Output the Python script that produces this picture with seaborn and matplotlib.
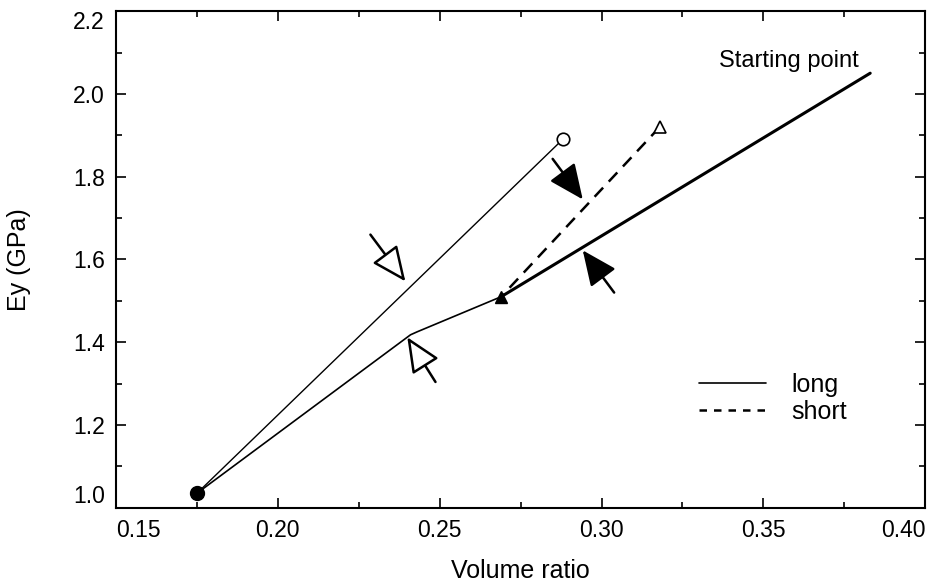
import matplotlib
matplotlib.use("Agg")
import matplotlib.pyplot as plt
from matplotlib.lines import Line2D
from matplotlib.ticker import MultipleLocator
import seaborn as sns
import pandas as pd

# thin solid path: start circle -> open circle
upper_x = [0.175, 0.288]
upper_y = [1.035, 1.89]
# thin solid path: filled triangle -> kink -> start circle
lower_x = [0.269, 0.243, 0.241, 0.175]
lower_y = [1.51, 1.425, 1.418, 1.035]
# thick solid path: starting point -> filled triangle
thick_x = [0.383, 0.269]
thick_y = [2.05, 1.51]
# dashed path: open triangle -> filled triangle
dash_x = [0.318, 0.269]
dash_y = [1.92, 1.51]

# arrows: (tail x, tail y, tip x, tip y, filled)
arrows = [
    (0.2286, 1.660, 0.2394, 1.547, False),
    (0.2487, 1.304, 0.2400, 1.412, False),
    (0.2849, 1.843, 0.2942, 1.745, True),
    (0.3039, 1.520, 0.2942, 1.622, True),
]

x_ticks = [0.15, 0.20, 0.25, 0.30, 0.35, 0.40]
y_ticks = [1.0, 1.2, 1.4, 1.6, 1.8, 2.0, 2.2]

sns.set_style("ticks", {"text.color": "black", "axes.labelcolor": "black",
                        "xtick.color": "black", "ytick.color": "black",
                        "axes.edgecolor": "black"})
plt.rcParams['font.family'] = ['Liberation Sans', 'DejaVu Sans']

fig = plt.figure(figsize=(9.28, 5.85), dpi=100)
ax = fig.add_axes([0.125, 0.132, 0.872, 0.849])

def seg(xs, ys, **kw):
    d = pd.DataFrame({'x': xs, 'y': ys})
    sns.lineplot(data=d, x='x', y='y', sort=False, estimator=None, ax=ax, color='black', **kw)

seg(upper_x, upper_y, linewidth=1.0)
seg(lower_x, lower_y, linewidth=1.2)
seg(thick_x, thick_y, linewidth=2.2)
seg(dash_x, dash_y, linewidth=1.8, linestyle=(0, (5, 3.3)))

ax.plot(upper_x[0], upper_y[0], 'o', color='black', markersize=10)
ax.plot(upper_x[1], upper_y[1], 'o', mfc='white', mec='black', markersize=9, mew=1.2)
ax.plot(dash_x[0], dash_y[0], '^', mfc='white', mec='black', markersize=9, mew=1.2)
ax.plot(thick_x[1], thick_y[1], '^', color='black', markersize=9)

for tx, ty, hx, hy, filled in arrows:
    ax.annotate('', xy=(hx, hy), xytext=(tx, ty),
                arrowprops=dict(arrowstyle='-|>,head_length=0.9,head_width=0.4',
                                mutation_scale=24, lw=1.8,
                                fc='black' if filled else 'white', ec='black',
                                shrinkA=0, shrinkB=0))

ax.text(0.358, 2.08, 'Starting point', fontsize=17, ha='center', va='center')

handles = [Line2D([], [], color='black', lw=1.2),
           Line2D([], [], color='black', lw=1.8, linestyle=(0, (3, 2.8)))]
ax.legend(handles, ['long', 'short'], loc='center left', bbox_to_anchor=(0.72, 0.22),
          frameon=False, fontsize=18, handlelength=2.7, handletextpad=1.0,
          labelspacing=0.12, borderaxespad=0, borderpad=0)

ax.set_xlim(0.15, 0.40)
ax.set_ylim(1.0, 2.2)
ax.set_xticks(x_ticks)
ax.set_yticks(y_ticks)
ax.xaxis.set_minor_locator(MultipleLocator(0.025))
ax.yaxis.set_minor_locator(MultipleLocator(0.1))
ax.set_xticklabels([f'{v:.2f}' for v in x_ticks])
ax.set_yticklabels([f'{v:.1f}' for v in y_ticks])
ax.tick_params(which='both', direction='in', top=True, right=True, labelsize=16.5, width=1.2)
ax.tick_params(which='major', length=7, pad=8)
ax.tick_params(which='minor', length=4)
xl = ax.get_xticklabels()
xl[0].set_ha('left')
xl[-1].set_ha('right')
yl = ax.get_yticklabels()
yl[0].set_va('bottom')
yl[-1].set_va('top')
for s in ax.spines.values():
    s.set_linewidth(1.5)

ax.set_xlabel('Volume ratio', fontsize=18, labelpad=12)
ax.set_ylabel('Ey (GPa)', fontsize=18, labelpad=30)

fig.savefig('out.png', dpi=100)
